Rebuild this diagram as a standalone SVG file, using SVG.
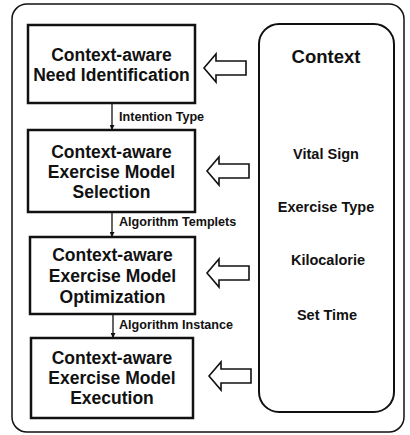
<svg xmlns="http://www.w3.org/2000/svg" width="410" height="435" viewBox="0 0 410 435">
<style>
.box{fill:#fff;stroke:#111;stroke-width:2.5}
.bt{font-family:"Liberation Sans",Arial,sans-serif;font-weight:bold;font-size:17.5px;fill:#111;text-anchor:middle}
.ct{font-family:"Liberation Sans",Arial,sans-serif;font-weight:bold;fill:#111;text-anchor:middle}
.lb{font-family:"Liberation Sans",Arial,sans-serif;font-weight:bold;font-size:12.6px;fill:#111}
.conn{stroke:#111;stroke-width:1.3;fill:none}
.big{fill:#fff;stroke:#111;stroke-width:1.6;stroke-linejoin:miter}
</style>
<defs>
<marker id="ah" viewBox="0 0 10 10" refX="10" refY="5" markerWidth="5" markerHeight="5" orient="auto" markerUnits="userSpaceOnUse">
<path d="M0,0 L10,5 L0,10 Z" fill="#111"/>
</marker>
<path id="harrow" d="M0,0 L12,-14 L12,-7 L42,-7 L42,7 L12,7 L12,14 Z"/>
</defs>
<rect width="410" height="435" fill="#fff"/>
<rect id="frame" x="12" y="4" width="392" height="428" rx="15" ry="15" fill="none" stroke="#111" stroke-width="1.5"/>
<g id="n1">
<rect class="box" x="28" y="25" width="167" height="78"/>
<text class="bt" x="111.5" y="61">Context-aware</text>
<text class="bt" x="111.5" y="81">Need Identification</text>
</g>
<g id="n2">
<rect class="box" x="28" y="130" width="167" height="82"/>
<text class="bt" x="111.5" y="158">Context-aware</text>
<text class="bt" x="111.5" y="178">Exercise Model</text>
<text class="bt" x="111.5" y="198">Selection</text>
</g>
<g id="n3">
<rect class="box" x="30" y="237" width="165" height="77"/>
<text class="bt" x="112.5" y="261">Context-aware</text>
<text class="bt" x="112.5" y="282">Exercise Model</text>
<text class="bt" x="112.5" y="303">Optimization</text>
</g>
<g id="n4">
<rect class="box" x="31" y="338" width="162" height="80"/>
<text class="bt" x="112" y="364">Context-aware</text>
<text class="bt" x="112" y="384">Exercise Model</text>
<text class="bt" x="112" y="404">Execution</text>
</g>
<g id="ctx">
<rect x="259" y="24" width="135" height="388" rx="20" ry="20" fill="#fff" stroke="#111" stroke-width="2"/>
<text class="ct" x="326" y="63" font-size="18.5">Context</text>
<text class="ct" x="326" y="159" font-size="14.5">Vital Sign</text>
<text class="ct" x="326" y="212" font-size="14.5">Exercise Type</text>
<text class="ct" x="328" y="265" font-size="14.5">Kilocalorie</text>
<text class="ct" x="327" y="320" font-size="14.5">Set Time</text>
</g>
<g id="connectors">
<line class="conn" x1="112" y1="103" x2="112" y2="130" marker-end="url(#ah)"/>
<line class="conn" x1="112" y1="212" x2="112" y2="237" marker-end="url(#ah)"/>
<line class="conn" x1="113" y1="314" x2="113" y2="338" marker-end="url(#ah)"/>
<text class="lb" x="119" y="121">Intention Type</text>
<text class="lb" x="119" y="226">Algorithm Templets</text>
<text class="lb" x="119" y="329">Algorithm Instance</text>
<use href="#harrow" class="big" transform="translate(204,68)"/>
<use href="#harrow" class="big" transform="translate(207,171)"/>
<use href="#harrow" class="big" transform="translate(207,273)"/>
<use href="#harrow" class="big" transform="translate(209,376)"/>
</g>
</svg>
